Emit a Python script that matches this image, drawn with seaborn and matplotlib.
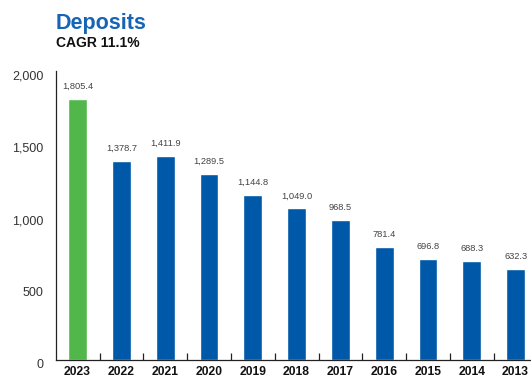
import matplotlib
matplotlib.use("Agg")
import matplotlib.pyplot as plt
import matplotlib.transforms as mtransforms
from matplotlib.ticker import FixedLocator, FuncFormatter
import seaborn as sns
import pandas as pd

# Deposits by year (most recent first)
years = ["2023", "2022", "2021", "2020", "2019", "2018", "2017", "2016", "2015", "2014", "2013"]
deposits = [1805.4, 1378.7, 1411.9, 1289.5, 1144.8, 1049.0, 968.5, 781.4, 696.8, 688.3, 632.3]
y_ticks = [0, 500, 1000, 1500, 2000]

title = "Deposits"
subtitle = "CAGR 11.1%"

GREEN = "#52b74a"
BLUE = "#0058a9"
TITLE_BLUE = "#1764b6"

sns.set_theme(style="white")
plt.rcParams["font.family"] = ["Liberation Sans", "DejaVu Sans"]

df = pd.DataFrame({"year": years, "deposits": deposits})
palette = {y: (GREEN if i == 0 else BLUE) for i, y in enumerate(years)}

fig = plt.figure(figsize=(5.31, 3.77), dpi=100)
ax = fig.add_axes([55.7 / 531, 17 / 377, 481.8 / 531, 289 / 377])

sns.barplot(data=df, x="year", y="deposits", hue="year", order=years,
            palette=palette, width=0.43, saturation=1, legend=False, ax=ax)

ax.set_xlim(-0.5, len(years) - 0.5)
ax.set_ylim(0, 2000)
ax.set_xlabel("")
ax.set_ylabel("")

# value labels above each bar
for i, v in enumerate(deposits):
    ax.annotate(f"{v:,.1f}", xy=(i, v), xytext=(0, 7.2), textcoords="offset points",
                ha="center", va="baseline", fontsize=6.7, color="#444444")

# axes styling
for side in ("top", "right"):
    ax.spines[side].set_visible(False)
for side in ("left", "bottom"):
    ax.spines[side].set_color("#222222")
    ax.spines[side].set_linewidth(0.9)

ax.yaxis.set_major_locator(FixedLocator(y_ticks))
ax.yaxis.set_major_formatter(FuncFormatter(lambda v, p: f"{v:,.0f}"))
ax.tick_params(axis="y", length=0, pad=9, labelsize=9, labelcolor="#333333")
offset = mtransforms.ScaledTranslation(0, -4 / 100, fig.dpi_scale_trans)
for lbl in ax.get_yticklabels():
    lbl.set_transform(lbl.get_transform() + offset)

ax.tick_params(axis="x", which="major", length=0, pad=4.5, labelsize=8.7, labelcolor="#111111")
for lbl in ax.get_xticklabels():
    lbl.set_fontweight("bold")
ax.xaxis.set_minor_locator(FixedLocator([i + 0.5 for i in range(len(years) - 1)]))
ax.tick_params(axis="x", which="minor", bottom=True, direction="in", length=5,
               width=0.9, color="#222222")

fig.text(56 / 531, 1 - 29.5 / 377, title, fontsize=15.5, fontweight="bold",
         color=TITLE_BLUE, va="baseline", ha="left")
fig.text(56 / 531, 1 - 46.7 / 377, subtitle, fontsize=10, fontweight="bold",
         color="#111111", va="baseline", ha="left")

fig.savefig("out.png", dpi=100)
